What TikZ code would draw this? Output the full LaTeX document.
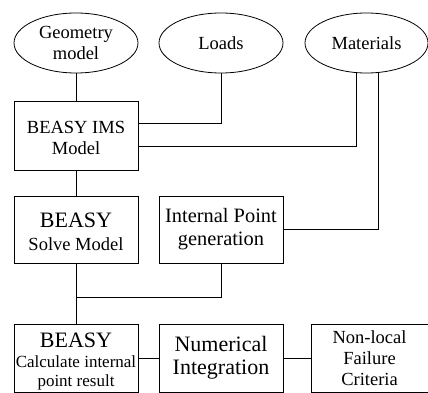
\documentclass[tikz,border=0pt]{standalone}
\usepackage{fontspec}
\setmainfont{Liberation Serif}
\usetikzlibrary{shapes.geometric}

\tikzset{
  oval/.style={draw, ellipse, minimum width=124pt, minimum height=60pt, inner sep=0pt, align=center},
  block/.style={draw, rectangle, minimum width=124pt, minimum height=68pt, inner sep=0pt, align=center},
  txt/.style={font=\fontsize{18.5}{21}\selectfont},
}
\newcommand{\bigbeasy}{{\fontsize{22}{24}\selectfont BEASY}}

\begin{document}
\begin{tikzpicture}[x=1pt, y=-1pt, line width=0.8pt]
        \useasboundingbox (0,0) rectangle (428,393);
        % input ovals
        \node [oval, txt] (geo) at (76,43) {Geometry\\model};
        \node [oval, txt] (loads) at (221,43) {Loads};
        \node [oval, txt, minimum width=123pt] (mat) at (366.5,43) {Materials};
        % model and solver boxes
        \node [block, txt, minimum height=69pt] (ims) at (76,135.5) {\rule{0pt}{17pt}BEASY IMS\\Model};
        \node [block, txt, minimum height=67pt, font=\fontsize{18.5}{23}\selectfont] (solve) at (76,229.5) {\rule{0pt}{20pt}\bigbeasy\\Solve Model};
        \node [block, minimum height=67pt, font=\fontsize{20.4}{23}\selectfont] (ipg) at (221,229.5) {Internal Point\\generation};
        % result boxes
        \node [block, font=\fontsize{17}{19.5}\selectfont] (calc) at (76,358) {\rule{0pt}{22pt}\bigbeasy\\Calculate internal\\point result};
        \node [block, font=\fontsize{22}{23}\selectfont] (num) at (221,358) {Numerical\\Integration};
        \node [block, txt, minimum width=117pt] (crit) at (369.5,358) {Non-local\\Failure\\Criteria};
        \coordinate (join) at (76,297);
        % connectors
        \draw (geo.south) -- (ims.north);
        \draw (loads.south) |- ([yshift=12.5pt]ims.east);
        \draw ([xshift=-10.5pt]mat.south) |- ([yshift=-10.5pt]ims.east);
        \draw ([xshift=11.5pt]mat.south) |- (ipg.east);
        \draw (ims.south) -- (solve.north);
        \draw (solve.south) -- (calc.north);
        \draw (ipg.south) |- (join);
        \draw (calc.east) -- (num.west);
        \draw (num.east) -- (crit.west);
\end{tikzpicture}
\end{document}
